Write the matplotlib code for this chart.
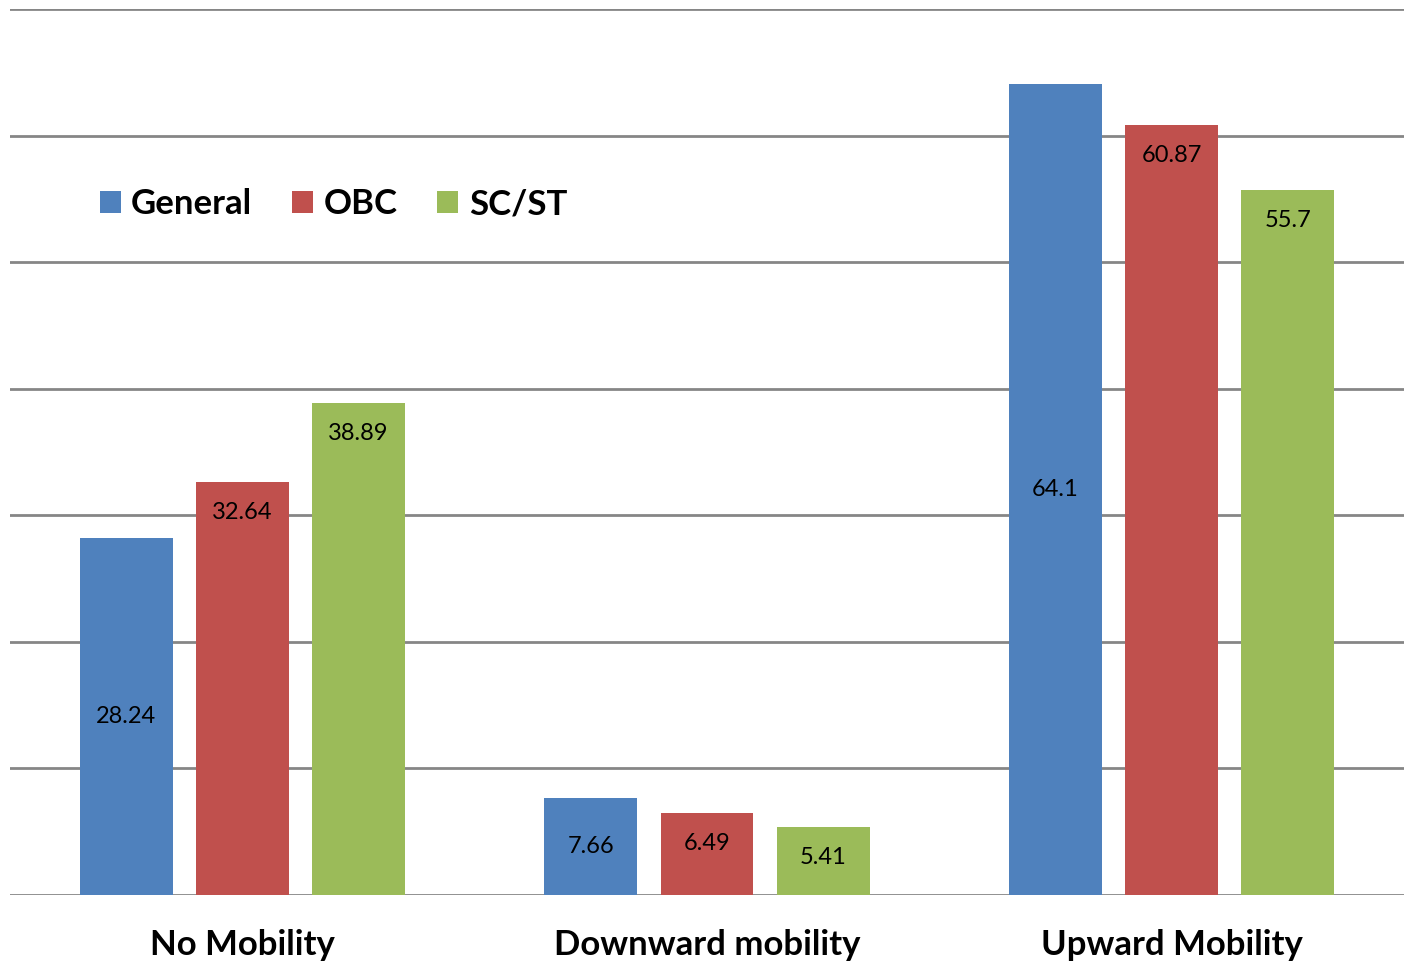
import numpy as np
import matplotlib.pyplot as plt

plt.rcParams['font.family'] = ['Lato', 'DejaVu Sans']

categories = ['No Mobility', 'Downward mobility', 'Upward Mobility']
series = ['General', 'OBC', 'SC/ST']
general = [28.24, 7.66, 64.1]
obc = [32.64, 6.49, 60.87]
scst = [38.89, 5.41, 55.7]
colors = ['#4F81BD', '#C0504D', '#9BBB59']

fig = plt.figure(figsize=(14.04, 9.61), dpi=100)
ax = fig.add_axes([10 / 1404, 66 / 961, 1394 / 1404, 886 / 961])

x = np.arange(len(categories))
width = 0.2
offsets = [-0.25, 0, 0.25]

for i, (name, vals) in enumerate(zip(series, [general, obc, scst])):
    bars = ax.bar(x + offsets[i], vals, width, color=colors[i], label=name,
                  zorder=3)
    for b, v in zip(bars, vals):
        cx = b.get_x() + b.get_width() / 2
        if i == 0:
            # first series: label in the middle of the bar
            ax.text(cx, v / 2, str(v), ha='center', va='center',
                    fontsize=17, zorder=4)
        else:
            # other series: label just inside the top
            ax.annotate(str(v), (cx, v), xytext=(0, -22),
                        textcoords='offset points', ha='center',
                        va='center', fontsize=17, zorder=4)

ax.set_xlim(-0.5, 2.5)
ax.set_ylim(0, 70)
ax.set_yticks(np.arange(0, 71, 10))
ax.yaxis.grid(True, color='#868686', linewidth=2)
ax.set_axisbelow(True)
ax.tick_params(axis='y', left=False, labelleft=False)
ax.tick_params(axis='x', bottom=False, pad=21)
ax.set_xticks(x)
ax.set_xticklabels(categories, fontsize=25, fontweight='bold')
for s in ax.spines.values():
    s.set_visible(False)

ax.legend(loc='upper left', bbox_to_anchor=(90 / 1394, (895 - 188) / 886),
          ncol=3, frameon=False, prop={'size': 25, 'weight': 'bold'},
          handlelength=0.6, handleheight=0.6, handletextpad=0.3,
          columnspacing=1.15, borderaxespad=0, borderpad=0)

fig.savefig('out.png', dpi=100)
